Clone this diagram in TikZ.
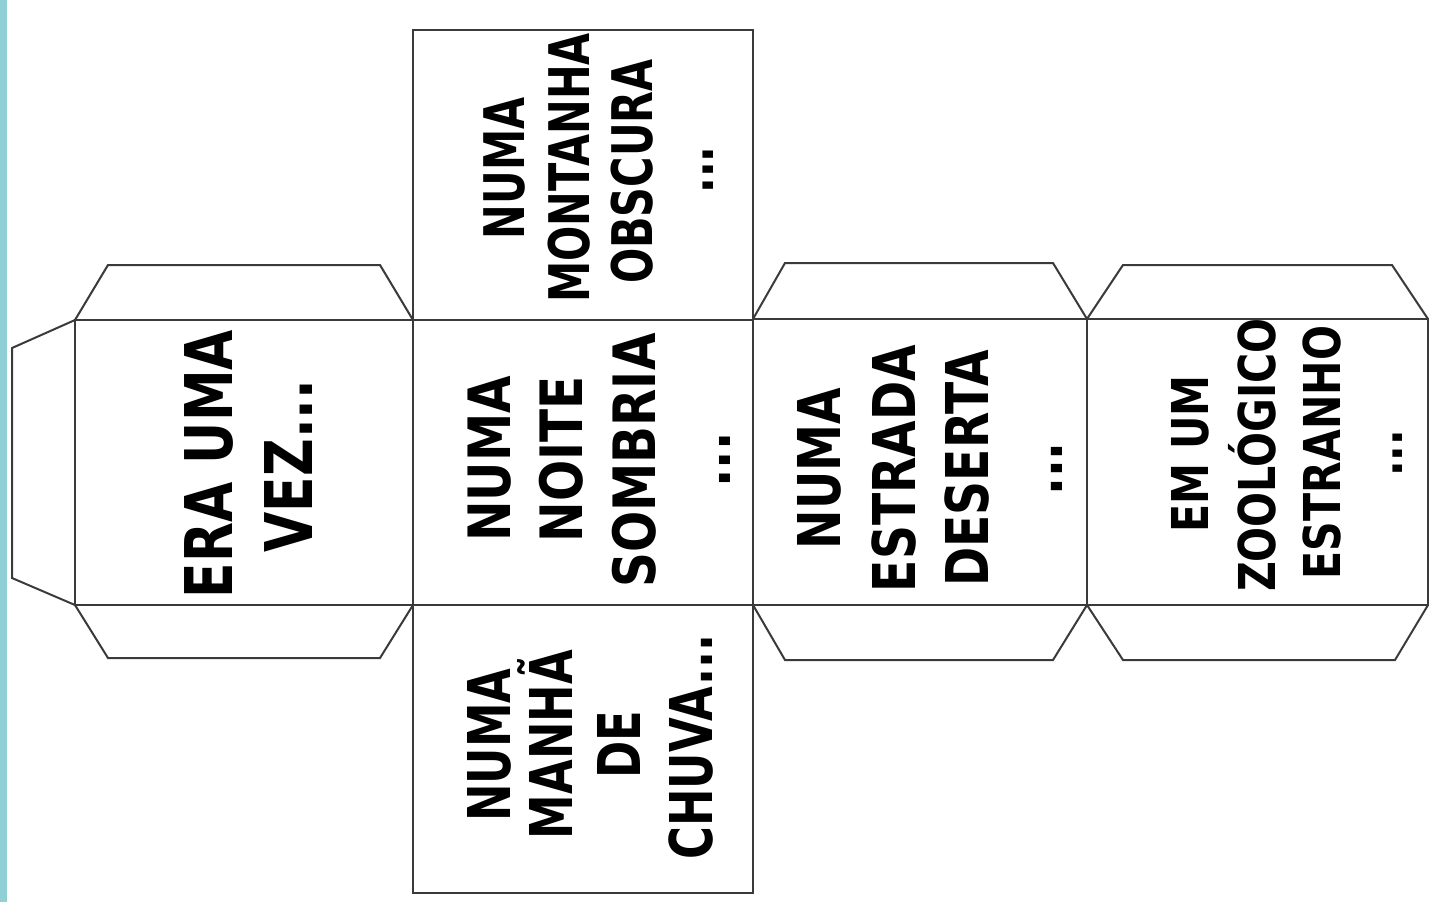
\documentclass[tikz,border=0pt]{standalone}
\usepackage{fontspec}
\setmainfont{DejaVu Sans}
\definecolor{stripcol}{HTML}{8FD0D4}
\definecolor{inkcol}{HTML}{3A3A3A}
\begin{document}
\begin{tikzpicture}[x=0.5pt,y=-0.5pt,
  edge/.style={draw=inkcol,line width=1pt,line join=miter},
  lbl/.style={rotate=90,anchor=base,inner sep=0pt,text=black},
  fa/.style={font=\fontsize{32.9}{36}\selectfont\bfseries,xscale=0.79},
  fb/.style={font=\fontsize{28}{32}\selectfont\bfseries,xscale=0.74},
  fc/.style={font=\fontsize{29.2}{32}\selectfont\bfseries,xscale=0.83},
  fd/.style={font=\fontsize{29.5}{32}\selectfont\bfseries,xscale=0.76},
  fe/.style={font=\fontsize{29.5}{32}\selectfont\bfseries,xscale=0.80},
  ff/.style={font=\fontsize{25.4}{28}\selectfont\bfseries,xscale=0.81}]
\useasboundingbox (0,0) rectangle (1434,902);
\fill[white] (0,0) rectangle (1434,902);
\fill[stripcol] (0,0) rectangle (6.5,902);

% faces
\draw[edge] (75,320) rectangle (413,605);
\draw[edge] (413,30) rectangle (753,320);
\draw[edge] (413,320) rectangle (753,605);
\draw[edge] (413,605) rectangle (753,893);
\draw[edge] (753,319) rectangle (1087,605);
\draw[edge] (1087,319) rectangle (1428,605);

% flaps
\draw[edge] (75,320) -- (108,265) -- (380,265) -- (413,320);
\draw[edge] (75,605) -- (108,658) -- (380,658) -- (413,605);
\draw[edge] (75,320) -- (12,348) -- (12,578) -- (75,605);
\draw[edge] (753,319) -- (785,263) -- (1053,263) -- (1087,319);
\draw[edge] (753,605) -- (785,660) -- (1053,660) -- (1087,605);
\draw[edge] (1087,319) -- (1123,265) -- (1392,265) -- (1428,319);
\draw[edge] (1087,605) -- (1123,660) -- (1395,660) -- (1428,605);

% face 1
\node[lbl,fa] (t1a) at (232,464) {ERA UMA};
\node[lbl,fa] (t1b) at (312,466) {VEZ...};
% top face
\node[lbl,fb] (t2a) at (524,168.5) {NUMA};
\node[lbl,fb] (t2b) at (589,168) {MONTANHA};
\node[lbl,fb] (t2c) at (652,171.5) {OBSCURA};
\node[lbl,fb] (t2d) at (713,170) {...};
% middle face
\node[lbl,fc] (t3a) at (510,459) {NUMA};
\node[lbl,fc] (t3b) at (582,459.5) {NOITE};
\node[lbl,fc] (t3c) at (655,460.5) {SOMBRIA};
\node[lbl,fc] (t3d) at (730,460) {...};
% bottom face
\node[lbl,fd] (t4a) at (510,745) {NUMA};
\node[lbl,fd] (t4b) at (572,744.5) {MANHÃ};
\node[lbl,fd] (t4c) at (640,745) {DE};
\node[lbl,fd] (t4d) at (712,747) {CHUVA...};
% face 3
\node[lbl,fe] (t5a) at (840,468.5) {NUMA};
\node[lbl,fe] (t5b) at (915,468.5) {ESTRADA};
\node[lbl,fe] (t5c) at (988,468) {DESERTA};
\node[lbl,fe] (t5d) at (1062,469) {...};
% face 4
\node[lbl,ff] (t6a) at (1208,454) {EM UM};
\node[lbl,ff] (t6b) at (1275,455) {ZOOLÓGICO};
\node[lbl,ff] (t6c) at (1340,452.5) {ESTRANHO};
\node[lbl,ff] (t6d) at (1402,453.5) {...};
\end{tikzpicture}
\end{document}
